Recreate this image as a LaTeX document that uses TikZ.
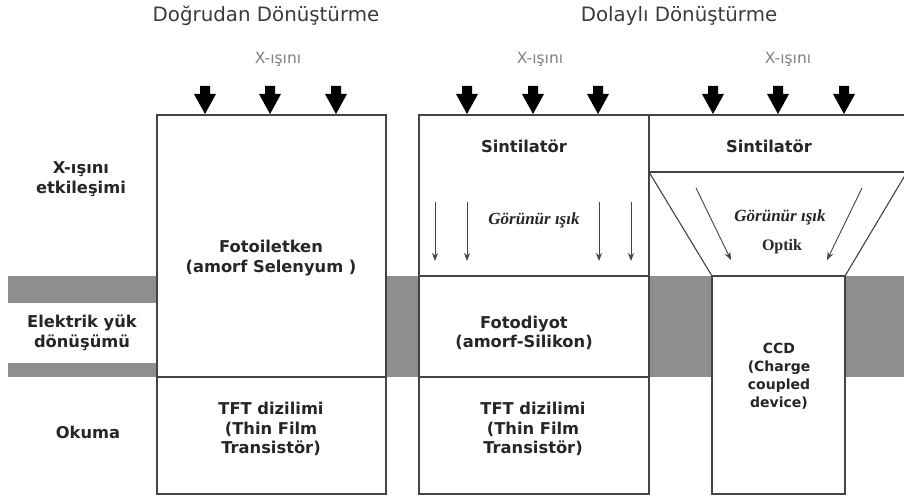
\documentclass[tikz,border=0pt]{standalone}
\usepackage{fontspec}
\setmainfont{DejaVu Sans}
\newfontfamily\serifbi{Liberation Serif}
\usetikzlibrary{arrows.meta}
\definecolor{bandgray}{HTML}{8E8E8E}
\definecolor{linegray}{HTML}{444444}
\definecolor{txt}{HTML}{262626}
\definecolor{lighttxt}{HTML}{808080}
\begin{document}
\begin{tikzpicture}[x=1pt,y=-1pt,
  lab/.style={font=\fontsize{16.3}{19.5}\selectfont\bfseries, align=center, text=txt, inner sep=0pt},
  smalllab/.style={font=\fontsize{14}{18}\selectfont\bfseries, align=center, text=txt, inner sep=0pt},
  titlelab/.style={font=\fontsize{19.8}{22}\selectfont, text=txt!90, inner sep=0pt},
  raylab/.style={font=\fontsize{15.5}{18}\selectfont, text=lighttxt, inner sep=0pt},
  lightlab/.style={font=\serifbi\fontsize{17}{18}\selectfont\bfseries\itshape, text=txt, inner sep=0pt},
  optlab/.style={font=\serifbi\fontsize{16}{18}\selectfont\bfseries, text=txt, inner sep=0pt},
  band/.style={fill=bandgray, draw=none},
  frame/.style={draw=linegray, line width=1.1pt},
  thinarrow/.style={draw=linegray, line width=0.9pt, -{Stealth[length=8pt,width=6pt]}},
  bigarrow/.style={fill=black}
]
\useasboundingbox[fill=white] (0,0) rectangle (904,500);
\clip (0,0) rectangle (904,500);

% gray bands
\fill[band] (8,276) rectangle (157,303);
\fill[band] (8,363) rectangle (157,377);
\fill[band] (386,276) rectangle (419,377);
\fill[band] (649,276) rectangle (712,377);
\fill[band] (845,276) rectangle (904,377);

% left box
\draw[frame, fill=white] (157,115) rectangle (386,494);
\draw[frame] (157,377) -- (386,377);
% middle box
\draw[frame, fill=white] (419,115) rectangle (649,494);
\draw[frame] (419,276) -- (649,276);
\draw[frame] (419,377) -- (649,377);
% right part
\draw[frame] (649,115) -- (910,115);
\draw[frame] (649,172) -- (910,172);
\draw[frame] (649,172) -- (712,276) -- (845,276) -- (907,172);
\draw[frame, fill=white] (712,276) rectangle (845,494);

% big X-ray arrows
\foreach \n/\x in {1/205,2/270,3/336,4/467,5/533,6/598,7/713,8/778,9/844}{
  \coordinate (tip\n) at (\x,114);
  \fill[bigarrow] (tip\n) ++(-5,-28) -- ++(10,0) -- ++(0,8) -- ++(6,0) -- (tip\n) -- ++(-11,-20) -- ++(6,0) -- cycle;
}

% thin arrows (visible light)
\foreach \n/\x in {1/435,2/467,3/599,4/631}{
  \coordinate (ls\n) at (\x,202);
  \coordinate (le\n) at (\x,261);
  \draw[thinarrow] (ls\n) -- (le\n);
}
\coordinate (os1) at (696,188);
\coordinate (oe1) at (731,260);
\coordinate (os2) at (862,188);
\coordinate (oe2) at (827,260);
\draw[thinarrow] (os1) -- (oe1);
\draw[thinarrow] (os2) -- (oe2);

% titles
\node[titlelab] (t1) at (266,16) {Doğrudan Dönüştürme};
\node[titlelab] (t2) at (679,16) {Dolaylı Dönüştürme};
\node[raylab] (x1) at (278,59) {X-ışını};
\node[raylab] (x2) at (540,59) {X-ışını};
\node[raylab] (x3) at (788,59) {X-ışını};

% row labels
\node[lab] (r1) at (81,179) {X-ışını\\etkileşimi};
\node[lab] (r2) at (82,333) {Elektrik yük\\dönüşümü};
\node[lab] (r3) at (88,432) {Okuma};

% box labels
\node[lab] (fot) at (271,258) {Fotoiletken\\(amorf Selenyum )};
\node[lab] (tft1) at (271,429) {TFT dizilimi\\(Thin Film\\Transistör)};
\node[lab] (s1) at (524,146) {Sintilatör};
\node[lightlab] (g1) at (534,220) {Görünür ışık};
\node[lab] (fd) at (524,333) {Fotodiyot\\(amorf-Silikon)};
\node[lab] (tft2) at (533,429) {TFT dizilimi\\(Thin Film\\Transistör)};
\node[lab] (s2) at (769,146) {Sintilatör};
\node[lightlab] (g2) at (780,217) {Görünür ışık};
\node[optlab] (op) at (782,247) {Optik};
\node[smalllab] (ccd) at (779,376) {CCD\\(Charge\\coupled\\device)};
\end{tikzpicture}
\end{document}
